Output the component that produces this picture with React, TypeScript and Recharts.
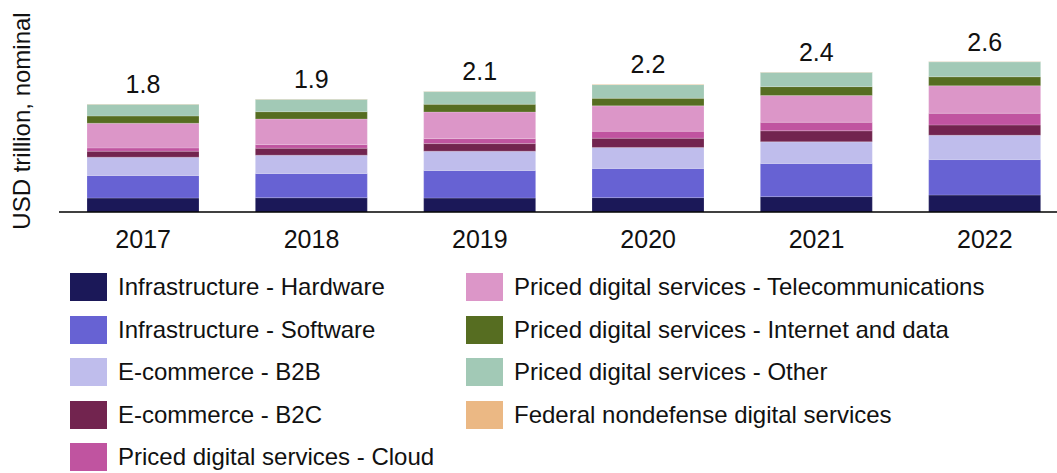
import React from "react";
import { BarChart, Bar, XAxis, YAxis, LabelList } from "recharts";

const years = ["2017", "2018", "2019", "2020", "2021", "2022"];

// USD trillion
const hardware = [0.238, 0.243, 0.238, 0.245, 0.262, 0.289];
const software = [0.384, 0.413, 0.469, 0.498, 0.566, 0.605];
const b2b = [0.313, 0.313, 0.33, 0.357, 0.369, 0.415];
const b2c = [0.102, 0.119, 0.129, 0.158, 0.187, 0.175];
const cloud = [0.056, 0.061, 0.085, 0.119, 0.146, 0.199];
const telecom = [0.42, 0.437, 0.454, 0.432, 0.454, 0.469];
const internet = [0.124, 0.124, 0.131, 0.129, 0.153, 0.153];
const other = [0.199, 0.211, 0.216, 0.233, 0.243, 0.255];
const federal = [0.005, 0.005, 0.005, 0.005, 0.005, 0.005];

const series = [
    { key: "hardware", name: "Infrastructure - Hardware", color: "#1b1858", values: hardware },
    { key: "software", name: "Infrastructure - Software", color: "#6762d3", values: software },
    { key: "b2b", name: "E-commerce - B2B", color: "#bfbdec", values: b2b },
    { key: "b2c", name: "E-commerce - B2C", color: "#72244f", values: b2c },
    { key: "cloud", name: "Priced digital services - Cloud", color: "#c054a0", values: cloud },
    { key: "telecom", name: "Priced digital services - Telecommunications", color: "#dc96c8", values: telecom },
    { key: "internet", name: "Priced digital services - Internet and data", color: "#566d21", values: internet },
    { key: "other", name: "Priced digital services - Other", color: "#a2c9b6", values: other },
    { key: "federal", name: "Federal nondefense digital services", color: "#ebb884", values: federal },
];

const data = years.map((year, i) => {
    const row: Record<string, number | string> = { year };
    let total = 0;
    series.forEach((s) => {
        row[s.key] = s.values[i];
        total += s.values[i];
    });
    row.total = total;
    return row;
});

const FONT = '"Liberation Sans", Arial, sans-serif';
const TEXT = "#111";

function YearTick({ x, y, payload }: any) {
    return (
        <text x={x} y={y + 28} textAnchor="middle" fontSize={25} fill={TEXT} fontFamily={FONT}>
            {payload.value}
        </text>
    );
}

function TotalLabel(props: any) {
    const vb = props.viewBox || {};
    const x = props.x ?? vb.x;
    const y = props.y ?? vb.y;
    const width = props.width ?? vb.width;
    return (
        <text x={x + width / 2} y={y - 11} textAnchor="middle" fontSize={25} fill={TEXT} fontFamily={FONT}>
            {Number(props.value).toFixed(1)}
        </text>
    );
}

function AxisTitle({ viewBox }: any) {
    const cx = viewBox.x + 30;
    const cy = viewBox.y + viewBox.height / 2 - 3;
    return (
        <text
            x={cx}
            y={cy}
            transform={`rotate(-90, ${cx}, ${cy})`}
            textAnchor="middle"
            fontSize={24}
            fill={TEXT}
            fontFamily={FONT}
        >
            USD trillion, nominal
        </text>
    );
}

function LegendItem({ name, color }: { name: string; color: string }) {
    return (
        <div style={{ display: "flex", alignItems: "center", height: 42.5 }}>
            <div style={{ width: 37, height: 28, background: color, marginRight: 11, flexShrink: 0 }} />
            <span style={{ fontSize: 24, color: TEXT, whiteSpace: "nowrap" }}>{name}</span>
        </div>
    );
}

export default function App() {
    const left = series.slice(0, 5);
    const right = series.slice(5);
    return (
        <div
            style={{
                position: "absolute",
                left: 0,
                top: 0,
                width: 1057,
                height: 473,
                overflow: "hidden",
                background: "#fff",
                fontFamily: FONT,
            }}
        >
            <BarChart
                width={1069}
                height={272}
                data={data}
                margin={{ top: 36, right: 0, bottom: 0, left: 0 }}
                barSize={112}
            >
                <XAxis
                    dataKey="year"
                    height={60}
                    axisLine={{ stroke: "#000", strokeWidth: 1.5 }}
                    tickLine={false}
                    tick={<YearTick />}
                    interval={0}
                />
                <YAxis
                    width={59}
                    domain={[0, 3]}
                    ticks={[0, 3]}
                    tick={false}
                    axisLine={false}
                    tickLine={false}
                    label={<AxisTitle />}
                />
                {series.map((s, idx) => (
                    <Bar
                        key={s.key}
                        dataKey={s.key}
                        name={s.name}
                        stackId="a"
                        fill={s.color}
                        stroke="rgba(255,255,255,0.3)"
                        strokeWidth={0.6}
                        isAnimationActive={false}
                    >
                        {idx === series.length - 1 && (
                            <LabelList dataKey="total" content={<TotalLabel />} />
                        )}
                    </Bar>
                ))}
            </BarChart>

            <div style={{ position: "absolute", left: 70, top: 266 }}>
                {left.map((s) => (
                    <LegendItem key={s.key} name={s.name} color={s.color} />
                ))}
            </div>
            <div style={{ position: "absolute", left: 466, top: 266 }}>
                {right.map((s) => (
                    <LegendItem key={s.key} name={s.name} color={s.color} />
                ))}
            </div>
        </div>
    );
}
